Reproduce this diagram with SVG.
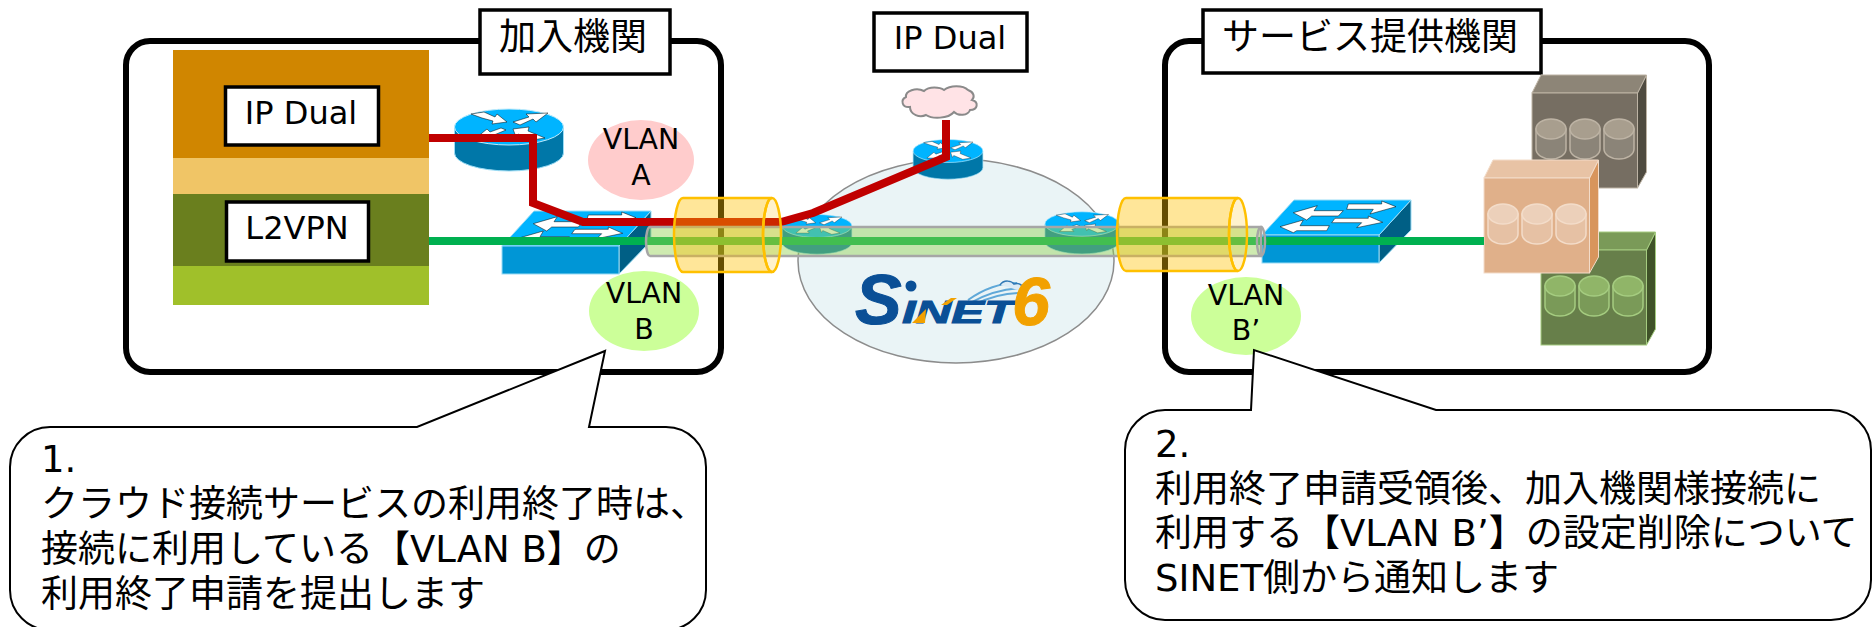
<svg xmlns="http://www.w3.org/2000/svg" xmlns:xlink="http://www.w3.org/1999/xlink" width="1873" height="627" viewBox="0 0 1873 627">
<style>
text{font-family:"DejaVu Sans","Noto Sans CJK JP",sans-serif;fill:#000}
.box{fill:#fff;stroke:#000;stroke-width:6}
.label{fill:#fff;stroke:#000;stroke-width:3.5}
.c{text-anchor:middle}
.t36{font-size:37px}
.t32{font-size:32px}
.t28{font-size:28.4px}
.call{fill:#fff;stroke:#000;stroke-width:2}
.red{fill:none;stroke:#C00000;stroke-width:8;stroke-linejoin:miter}
.green{fill:none;stroke:#00B050;stroke-width:8}
.yb{fill:#FFC000;fill-opacity:.4;stroke:#FFC000;stroke-width:2.5}
.yc{fill:#FFC000;fill-opacity:.2;stroke:#FFC000;stroke-width:2.5}
.tube{fill:#92D050;fill-opacity:.45;stroke:#A6A6A6;stroke-width:2.5}
.cb{fill:var(--b);stroke:var(--s);stroke-width:1.5}
.ct{fill:var(--t);stroke:var(--s);stroke-width:1.5}
.sf{fill:var(--f);stroke:var(--s);stroke-width:1}
.st{fill:var(--p);stroke:var(--s);stroke-width:1}
.ss{fill:var(--d);stroke:var(--s);stroke-width:1}
.logo{font-family:"Liberation Sans",sans-serif;font-weight:700;font-style:italic;fill:#0A4F96;stroke:#0A4F96;stroke-width:1}
</style>
<defs>
<g id="routerIcon">
<path d="M-54.5,0V26A54.5,18 0 0 0 54.5,26V0Z" fill="#0077A8" stroke="#9ADCF5" stroke-width="1"/>
<ellipse rx="54.5" ry="18" fill="#00B4FF" stroke="#BFEBFB" stroke-width="1"/>
<g fill="#fff" stroke="#000" stroke-width=".5">
<polygon points="-38,-13 -25,-15 -14,-10 -12,-13 -2,-5 -17,-3 -16,-6 -27,-9"/>
<polygon points="4,-5 20,-10 17,-13 39,-14 27,-5 24,-8 11,-2"/>
<polygon points="-33,11 -22,2 -19,5 -8,1 -3,3 -15,8 -12,11"/>
<polygon points="4,2 20,0 19,4 36,11 23,13 9,7 7,10"/>
</g>
</g>
<g id="switchIcon">
<polygon points="117,0 149,-35 149,-5 117,28" fill="#005F85" stroke="#9ADCF5" stroke-width="1"/>
<polygon points="0,0 32,-35 149,-35 117,0" fill="#00B4FF" stroke="#9ADCF5" stroke-width="1"/>
<rect width="117" height="28" fill="#0096D6" stroke="#9ADCF5" stroke-width="1"/>
<g fill="#fff" stroke="#000" stroke-width=".5">
<polygon points="31.3,-22.3 55.3,-29.3 52,-24.3 81.3,-24.3 76.3,-19 49.7,-19 44.7,-15"/>
<polygon points="134,-28.3 119.7,-34 119.7,-31 86.3,-31 84.7,-25.7 111.3,-25.7 108,-21"/>
<polygon points="18,-8.3 41.3,-15 38,-9.3 67.3,-9.3 64.7,-4.3 34.7,-4.3 31.3,-2.3"/>
<polygon points="120.7,-12.7 106.3,-19 106.3,-16.7 73,-16.7 69.7,-12.3 99.7,-12.3 94.7,-7.3"/>
</g>
</g>
<g id="cyl">
<path class="cb" d="M-15,0V20A15,10 0 0 0 15,20V0Z"/>
<ellipse class="ct" rx="15" ry="10"/>
</g>
<g id="serverIcon">
<polygon class="ss" points="105.5,0 114.5,-18 114.5,79 105.5,95"/>
<polygon class="st" points="0,0 9,-18 114.5,-18 105.5,0"/>
<rect class="sf" width="105.5" height="95"/>
<use xlink:href="#cyl" href="#cyl" x="19" y="36"/>
<use xlink:href="#cyl" href="#cyl" x="53" y="36"/>
<use xlink:href="#cyl" href="#cyl" x="87" y="36"/>
</g>
</defs>

<g id="member-org">
<rect class="box" x="126" y="41" width="595" height="331" rx="24"/>
<rect class="label" x="480" y="10" width="190" height="64"/>
<text class="t36 c" x="573" y="50">加入機関</text>
</g>
<g id="provider-org">
<rect class="box" x="1165" y="41" width="544" height="331" rx="24"/>
<rect class="label" x="1203" y="10" width="338" height="63"/>
<text class="t36 c" x="1370" y="50">サービス提供機関</text>
</g>

<g id="member-stack">
<rect x="173" y="50" width="256" height="108" fill="#D08600"/>
<rect x="173" y="158" width="256" height="36" fill="#F0C566"/>
<rect x="173" y="194" width="256" height="72" fill="#6A7F1E"/>
<rect x="173" y="266" width="256" height="39" fill="#A0C02A"/>
<rect class="label" x="225.500" y="87" width="153" height="58"/>
<text class="t32 c" x="301" y="124">IP Dual</text>
<rect class="label" x="226.500" y="202" width="142" height="59"/>
<text class="t32 c" x="297" y="239">L2VPN</text>
</g>

<g id="sinet">
<ellipse cx="956" cy="261" rx="158" ry="102" fill="#EAF4F6" stroke="#8C8C8C" stroke-width="1.500"/>
</g>
<g id="sinet-logo">
<path d="M968,300C985,288 1000,283 1017,283M972,302C988,293 1002,289 1020,288M976,304C990,297 1004,293 1022,293" fill="none" stroke="#5FA8D8" stroke-width="2"/>
<path d="M1000,285C1004,279 1012,281 1014,284C1020,282 1024,286 1022,291" fill="#DCEBF5" stroke="#2F78B5" stroke-width="1.500"/>
<text class="logo" x="855" y="324" font-size="70">S</text>
<circle cx="911" cy="286" r="5.500" fill="#0A4F96"/>
<text class="logo" x="902" y="323" font-size="32" textLength="112" lengthAdjust="spacingAndGlyphs">INET</text>
<polygon points="912,323 926,309 925,323" fill="#F2A100"/>
<polygon points="941,305 951,298 957,298 947,305" fill="#F2A100"/>
<text class="logo" x="1012" y="325" font-size="68" style="fill:#F2A100;stroke:#F2A100">6</text>
</g>

<g id="router-member"><use xlink:href="#routerIcon" href="#routerIcon" transform="translate(509,127)"/></g>
<g id="switch-member"><use xlink:href="#switchIcon" href="#switchIcon" transform="translate(502,246)"/></g>
<g id="switch-provider"><use xlink:href="#switchIcon" href="#switchIcon" transform="translate(1262,235)"/></g>
<g id="router-top"><use xlink:href="#routerIcon" href="#routerIcon" transform="translate(948,151) scale(.64)"/></g>
<g id="router-left"><use xlink:href="#routerIcon" href="#routerIcon" transform="translate(817,226) scale(.64)"/></g>
<g id="router-right"><use xlink:href="#routerIcon" href="#routerIcon" transform="translate(1082,224) scale(.68)"/></g>

<g id="cloud">
<path d="M910,107C902,108 900,100 906,97C905,91 916,87 924,91C929,86 940,87 944,90C950,85 963,85 968,90C974,92 975,97 972,100C979,102 978,110 970,110C968,116 958,116 954,112C948,119 932,119 926,115C920,118 910,115 910,107Z" fill="#FFE3E6" stroke="#8A8A8A" stroke-width="2"/>
</g>

<g id="server-gray" style="--f:#766E62;--p:#8D8577;--d:#4F4B40;--s:#BDB3A4;--b:#8B8478;--t:#A89E8E"><use xlink:href="#serverIcon" href="#serverIcon" transform="translate(1532,93)"/></g>
<g id="server-green" style="--f:#677F4A;--p:#7A9A58;--d:#3F5228;--s:#A5CC80;--b:#7A9A58;--t:#90B568"><use xlink:href="#serverIcon" href="#serverIcon" transform="translate(1541,250)"/></g>
<g id="server-peach" style="--f:#E0B08A;--p:#E8C3A5;--d:#D8955C;--s:#F3DCC9;--b:#E6C1A4;--t:#ECD0BA"><use xlink:href="#serverIcon" href="#serverIcon" transform="translate(1484,178)"/></g>

<g id="vlan-a"><ellipse cx="641" cy="160" rx="53" ry="40" fill="#FFCCCC"/><text class="t28 c" x="641" y="149">VLAN</text><text class="t28 c" x="641" y="185">A</text></g>
<g id="vlan-b"><ellipse cx="644" cy="311" rx="55" ry="40" fill="#CCFF99"/><text class="t28 c" x="644" y="303">VLAN</text><text class="t28 c" x="644" y="339">B</text></g>
<g id="vlan-b-prime"><ellipse cx="1246" cy="316" rx="55" ry="39" fill="#CCFF99"/><text class="t28 c" x="1246" y="305">VLAN</text><text class="t28 c" x="1246" y="340">B’</text></g>

<g id="connectors">
<path class="green" d="M429,241H1484"/>
<path class="red" d="M429,138H533V203L583,222H781L813,213L946,157V120"/>
</g>

<g id="tunnel">
<path class="tube" d="M650,227H1261V256H650A4,14.500 0 0 1 650,227Z"/>
<ellipse class="tube" cx="1261" cy="241.500" rx="4" ry="14.500" style="fill:none"/>
<path class="yb" d="M772,198H683A9,37 0 0 0 683,272H772A9,37 0 0 1 772,198Z"/>
<ellipse class="yc" cx="772" cy="235" rx="9" ry="37"/>
<path class="yb" d="M1238,198H1126A9,36.500 0 0 0 1126,271H1238A9,36.500 0 0 1 1238,198Z"/>
<ellipse class="yc" cx="1238" cy="234.500" rx="9" ry="36.500"/>
</g>

<g id="top-ip-dual">
<rect class="label" x="874" y="13" width="153" height="58"/>
<text class="t32 c" x="950" y="49">IP Dual</text>
</g>

<g id="callout-1">
<path class="call" d="M50,427H417L605,351L589,427H666A40,40 0 0 1 706,467V590A40,40 0 0 1 666,630H50A40,40 0 0 1 10,590V467A40,40 0 0 1 50,427Z"/>
<text class="t36" x="41" y="472">1.</text>
<text class="t36" x="41" y="517">クラウド接続サービスの利用終了時は、</text>
<text class="t36" x="41" y="562">接続に利用している【VLAN B】の</text>
<text class="t36" x="41" y="607">利用終了申請を提出します</text>
</g>
<g id="callout-2">
<path class="call" d="M1165,410H1251L1254,350L1436,410H1831A40,40 0 0 1 1871,450V580A40,40 0 0 1 1831,620H1165A40,40 0 0 1 1125,580V450A40,40 0 0 1 1165,410Z"/>
<text class="t36" x="1155" y="457">2.</text>
<text class="t36" x="1155" y="502">利用終了申請受領後、加入機関様接続に</text>
<text class="t36" x="1155" y="546">利用する【VLAN B’】の設定削除について</text>
<text class="t36" x="1155" y="591">SINET側から通知します</text>
</g>
</svg>
